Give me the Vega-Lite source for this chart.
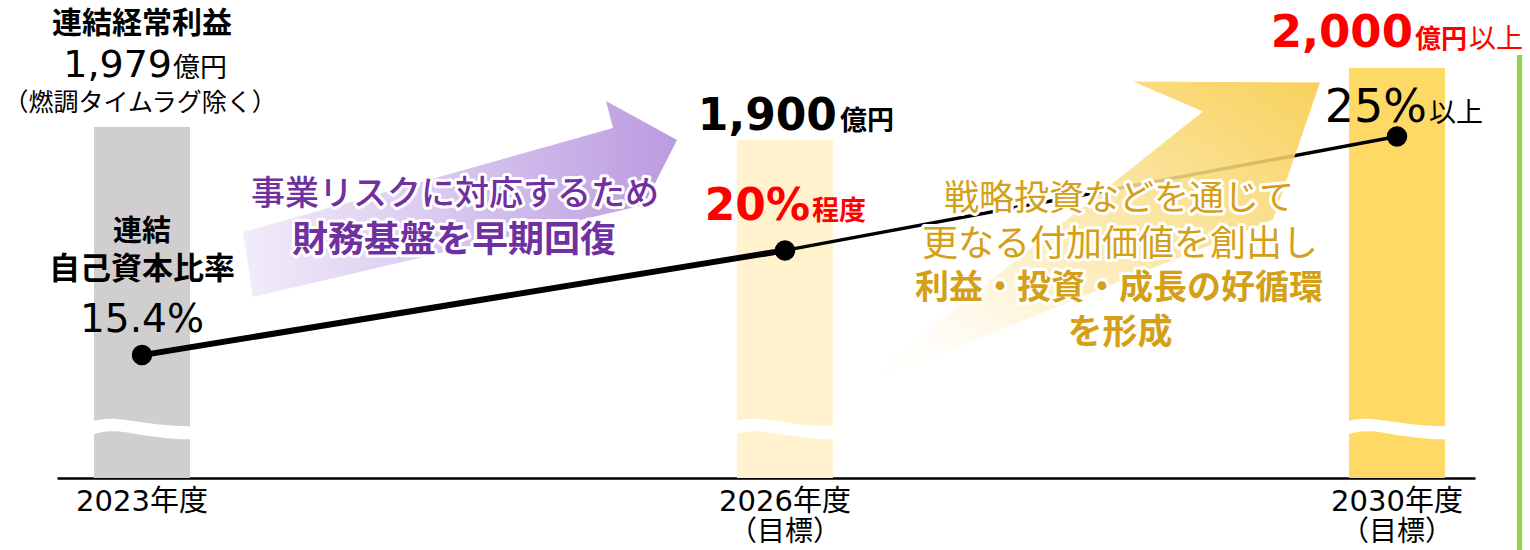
{
  "$schema": "https://vega.github.io/schema/vega-lite/v6.json",
  "width": 1530,
  "height": 478,
  "autosize": {"type": "none"},
  "padding": {"left": 0, "right": 0, "top": 0, "bottom": 72},
  "background": "white",
  "config": {"view": {"stroke": null}},
  "data": {"values": [
    {"year": 2023, "fy": "2023年度", "sub": "", "profit": 1979, "profitText": "1,979", "profitNote": "", "ratio": 15.4, "ratioText": "15.4%", "ratioNote": ""},
    {"year": 2026, "fy": "2026年度", "sub": "（目標）", "profit": 1900, "profitText": "1,900", "profitNote": "", "ratio": 20, "ratioText": "20%", "ratioNote": "程度"},
    {"year": 2030, "fy": "2030年度", "sub": "（目標）", "profit": 2000, "profitText": "2,000", "profitNote": "以上", "ratio": 25, "ratioText": "25%", "ratioNote": "以上"}
  ]},
  "encoding": {
    "x": {"field": "year", "type": "quantitative",
      "scale": {"domain": [2022.6, 2023, 2026, 2030, 2030.5], "range": [57, 142, 785, 1397, 1475], "zero": false, "nice": false},
      "axis": {"title": null, "labels": false, "ticks": false, "grid": false, "domain": true, "domainColor": "#000000", "domainWidth": 2.5}}
  },
  "layer": [
    {"mark": {"type": "bar", "width": 96, "orient": "vertical"},
     "encoding": {
       "y": {"field": "profit", "type": "quantitative", "scale": {"domain": [0, 1900, 1979, 2000], "range": [478, 140, 127, 68], "zero": false, "nice": false}, "axis": null},
       "color": {"field": "fy", "type": "nominal", "scale": {"domain": ["2023年度", "2026年度", "2030年度"], "range": ["#D0CECE", "#FFF2CC", "#FFD966"]}, "legend": null}}},
    {"mark": {"type": "point", "shape": "M-1.05,-0.15 C-0.85,-0.22 -0.6,-0.23 -0.3,-0.18 C0.1,-0.12 0.6,-0.05 1.05,-0.06 L1.05,0.21 C0.6,0.22 0.1,0.14 -0.3,0.07 C-0.6,0.02 -0.85,0.04 -1.05,0.12 Z", "size": 9409, "filled": true, "fill": "#FFFFFF", "opacity": 1, "strokeWidth": 0},
     "encoding": {"y": {"datum": 275, "scale": {"domain": [0, 1900, 1979, 2000], "range": [478, 140, 127, 68], "zero": false, "nice": false}, "axis": null}}},
    {"transform": [{"filter": "datum.year === 2023"}],
     "mark": {"type": "point", "shape": "M101,-123 L471,-227 L464,-254 L535,-215 L502,-150 L111,-58 Z", "size": 4, "filled": true, "opacity": 1, "strokeWidth": 0,
       "fill": {"gradient": "linear", "x1": 0, "y1": 0.5, "x2": 1, "y2": 0.5, "stops": [{"offset": 0, "color": "#F1ECFA"}, {"offset": 0.4, "color": "#DCCDF1"}, {"offset": 1, "color": "#BB9BE0"}]}},
     "encoding": {"y": {"field": "ratio", "type": "quantitative", "scale": {"domain": [10, 31], "zero": false, "nice": false}, "axis": null}}},
    {"transform": [{"filter": "datum.year <= 2026"}],
     "mark": {"type": "line", "color": "#000000", "strokeWidth": 6},
     "encoding": {"y": {"field": "ratio", "type": "quantitative", "scale": {"domain": [10, 31], "zero": false, "nice": false}, "axis": null}}},
    {"transform": [{"filter": "datum.year >= 2026"}],
     "mark": {"type": "line", "color": "#000000", "strokeWidth": 3.5},
     "encoding": {"y": {"field": "ratio", "type": "quantitative", "scale": {"domain": [10, 31], "zero": false, "nice": false}, "axis": null}}},
    {"transform": [{"filter": "datum.year === 2030"}],
     "mark": {"type": "point", "shape": "M-77,-54 L-264,-55 L-194,-25 L-544,253 L-124,83 Z", "size": 4, "filled": true, "opacity": 0.88, "strokeWidth": 0,
       "fill": {"gradient": "linear", "x1": 0, "y1": 1, "x2": 1, "y2": 0, "stops": [{"offset": 0, "color": "rgba(255,255,255,0)"}, {"offset": 0.4, "color": "#FCEDC0"}, {"offset": 1, "color": "#F7CB45"}]}},
     "encoding": {"y": {"field": "ratio", "type": "quantitative", "scale": {"domain": [10, 31], "zero": false, "nice": false}, "axis": null}}},
    {"mark": {"type": "point", "shape": "circle", "size": 420, "filled": true, "color": "#000000", "opacity": 1, "strokeWidth": 0},
     "encoding": {"y": {"field": "ratio", "type": "quantitative", "scale": {"domain": [10, 31], "zero": false, "nice": false}, "axis": null}}},
    {"transform": [{"filter": "datum.year === 2030"}],
     "mark": {"type": "rule", "color": "#92D050", "strokeWidth": 5},
     "encoding": {"x": {"datum": 2030.83},
       "y": {"datum": 2004.6, "scale": {"domain": [0, 1900, 1979, 2000], "range": [478, 140, 127, 68], "zero": false, "nice": false}, "axis": null},
       "y2": {"datum": -405}}},

    {"transform": [{"filter": "datum.year === 2023"}],
     "mark": {"type": "text", "text": "連結経常利益", "font": "Noto Sans CJK JP", "fontSize": 30, "fontWeight": "bold", "color": "#000000", "align": "center", "baseline": "middle", "dy": -103},
     "encoding": {"y": {"field": "profit", "type": "quantitative", "scale": {"domain": [0, 1900, 1979, 2000], "range": [478, 140, 127, 68], "zero": false, "nice": false}, "axis": null}}},
    {"transform": [{"filter": "datum.year === 2023"}],
     "mark": {"type": "text", "font": "DejaVu Sans, Noto Sans CJK JP", "fontSize": 38, "color": "#000000", "align": "right", "baseline": "alphabetic", "dx": 30, "dy": -50},
     "encoding": {"y": {"field": "profit", "type": "quantitative", "scale": {"domain": [0, 1900, 1979, 2000], "range": [478, 140, 127, 68], "zero": false, "nice": false}, "axis": null}, "text": {"field": "profitText"}}},
    {"transform": [{"filter": "datum.year === 2023"}],
     "mark": {"type": "text", "text": "億円", "font": "Noto Sans CJK JP", "fontSize": 27, "color": "#000000", "align": "left", "baseline": "alphabetic", "dx": 31, "dy": -50},
     "encoding": {"y": {"field": "profit", "type": "quantitative", "scale": {"domain": [0, 1900, 1979, 2000], "range": [478, 140, 127, 68], "zero": false, "nice": false}, "axis": null}}},
    {"transform": [{"filter": "datum.year === 2023"}],
     "mark": {"type": "text", "text": "（燃調タイムラグ除く）", "font": "Noto Sans CJK JP", "fontSize": 25, "color": "#000000", "align": "center", "baseline": "middle", "dx": -2, "dy": -24},
     "encoding": {"y": {"field": "profit", "type": "quantitative", "scale": {"domain": [0, 1900, 1979, 2000], "range": [478, 140, 127, 68], "zero": false, "nice": false}, "axis": null}}},

    {"transform": [{"filter": "datum.year === 2023"}],
     "mark": {"type": "text", "text": "連結", "font": "Noto Sans CJK JP", "fontSize": 29, "fontWeight": "bold", "color": "#000000", "align": "center", "baseline": "middle", "dy": -123},
     "encoding": {"y": {"field": "ratio", "type": "quantitative", "scale": {"domain": [10, 31], "zero": false, "nice": false}, "axis": null}}},
    {"transform": [{"filter": "datum.year === 2023"}],
     "mark": {"type": "text", "text": "自己資本比率", "font": "Noto Sans CJK JP", "fontSize": 31, "fontWeight": "bold", "color": "#000000", "align": "center", "baseline": "middle", "dy": -85},
     "encoding": {"y": {"field": "ratio", "type": "quantitative", "scale": {"domain": [10, 31], "zero": false, "nice": false}, "axis": null}}},
    {"transform": [{"filter": "datum.year === 2023"}],
     "mark": {"type": "text", "font": "DejaVu Sans, Noto Sans CJK JP", "fontSize": 39, "color": "#000000", "align": "center", "baseline": "alphabetic", "dy": -23},
     "encoding": {"y": {"field": "ratio", "type": "quantitative", "scale": {"domain": [10, 31], "zero": false, "nice": false}, "axis": null}, "text": {"field": "ratioText"}}},

    {"transform": [{"filter": "datum.year === 2023"}],
     "mark": {"type": "text", "text": "事業リスクに対応するため", "font": "Noto Sans CJK JP", "fontSize": 34, "fontWeight": 500, "fill": "#FFFFFF", "stroke": "#FFFFFF", "strokeWidth": 6, "strokeJoin": "round", "align": "center", "baseline": "middle", "dx": 313, "dy": -160},
     "encoding": {"y": {"field": "ratio", "type": "quantitative", "scale": {"domain": [10, 31], "zero": false, "nice": false}, "axis": null}}},
    {"transform": [{"filter": "datum.year === 2023"}],
     "mark": {"type": "text", "text": "事業リスクに対応するため", "font": "Noto Sans CJK JP", "fontSize": 34, "fontWeight": 500, "fill": "#7030A0", "align": "center", "baseline": "middle", "dx": 313, "dy": -160},
     "encoding": {"y": {"field": "ratio", "type": "quantitative", "scale": {"domain": [10, 31], "zero": false, "nice": false}, "axis": null}}},
    {"transform": [{"filter": "datum.year === 2023"}],
     "mark": {"type": "text", "text": "財務基盤を早期回復", "font": "Noto Sans CJK JP", "fontSize": 36, "fontWeight": "bold", "fill": "#FFFFFF", "stroke": "#FFFFFF", "strokeWidth": 6, "strokeJoin": "round", "align": "center", "baseline": "middle", "dx": 312, "dy": -114},
     "encoding": {"y": {"field": "ratio", "type": "quantitative", "scale": {"domain": [10, 31], "zero": false, "nice": false}, "axis": null}}},
    {"transform": [{"filter": "datum.year === 2023"}],
     "mark": {"type": "text", "text": "財務基盤を早期回復", "font": "Noto Sans CJK JP", "fontSize": 36, "fontWeight": "bold", "fill": "#7030A0", "align": "center", "baseline": "middle", "dx": 312, "dy": -114},
     "encoding": {"y": {"field": "ratio", "type": "quantitative", "scale": {"domain": [10, 31], "zero": false, "nice": false}, "axis": null}}},

    {"transform": [{"filter": "datum.year === 2026"}],
     "mark": {"type": "text", "font": "DejaVu Sans, Noto Sans CJK JP", "fontSize": 44, "fontWeight": "bold", "color": "#000000", "align": "right", "baseline": "alphabetic", "dx": 52, "dy": -10},
     "encoding": {"y": {"field": "profit", "type": "quantitative", "scale": {"domain": [0, 1900, 1979, 2000], "range": [478, 140, 127, 68], "zero": false, "nice": false}, "axis": null}, "text": {"field": "profitText"}}},
    {"transform": [{"filter": "datum.year === 2026"}],
     "mark": {"type": "text", "text": "億円", "font": "Noto Sans CJK JP", "fontSize": 27, "fontWeight": "bold", "color": "#000000", "align": "left", "baseline": "alphabetic", "dx": 55, "dy": -10},
     "encoding": {"y": {"field": "profit", "type": "quantitative", "scale": {"domain": [0, 1900, 1979, 2000], "range": [478, 140, 127, 68], "zero": false, "nice": false}, "axis": null}}},
    {"transform": [{"filter": "datum.year === 2026"}],
     "mark": {"type": "text", "font": "DejaVu Sans, Noto Sans CJK JP", "fontSize": 44, "fontWeight": "bold", "color": "#FF0000", "align": "right", "baseline": "alphabetic", "dx": 25, "dy": -30},
     "encoding": {"y": {"field": "ratio", "type": "quantitative", "scale": {"domain": [10, 31], "zero": false, "nice": false}, "axis": null}, "text": {"field": "ratioText"}}},
    {"transform": [{"filter": "datum.year === 2026"}],
     "mark": {"type": "text", "font": "Noto Sans CJK JP", "fontSize": 27, "fontWeight": "bold", "color": "#FF0000", "align": "left", "baseline": "alphabetic", "dx": 27, "dy": -30},
     "encoding": {"y": {"field": "ratio", "type": "quantitative", "scale": {"domain": [10, 31], "zero": false, "nice": false}, "axis": null}, "text": {"field": "ratioNote"}}},

    {"transform": [{"filter": "datum.year === 2030"}],
     "mark": {"type": "text", "font": "DejaVu Sans, Noto Sans CJK JP", "fontSize": 45, "fontWeight": "bold", "color": "#FF0000", "align": "right", "baseline": "alphabetic", "dx": 16, "dy": -21},
     "encoding": {"y": {"field": "profit", "type": "quantitative", "scale": {"domain": [0, 1900, 1979, 2000], "range": [478, 140, 127, 68], "zero": false, "nice": false}, "axis": null}, "text": {"field": "profitText"}}},
    {"transform": [{"filter": "datum.year === 2030"}],
     "mark": {"type": "text", "text": "億円", "font": "Noto Sans CJK JP", "fontSize": 26, "fontWeight": "bold", "color": "#FF0000", "align": "left", "baseline": "alphabetic", "dx": 18, "dy": -20},
     "encoding": {"y": {"field": "profit", "type": "quantitative", "scale": {"domain": [0, 1900, 1979, 2000], "range": [478, 140, 127, 68], "zero": false, "nice": false}, "axis": null}}},
    {"transform": [{"filter": "datum.year === 2030"}],
     "mark": {"type": "text", "font": "Noto Sans CJK JP", "fontSize": 27, "color": "#FF0000", "align": "left", "baseline": "alphabetic", "dx": 72, "dy": -20},
     "encoding": {"y": {"field": "profit", "type": "quantitative", "scale": {"domain": [0, 1900, 1979, 2000], "range": [478, 140, 127, 68], "zero": false, "nice": false}, "axis": null}, "text": {"field": "profitNote"}}},
    {"transform": [{"filter": "datum.year === 2030"}],
     "mark": {"type": "text", "font": "DejaVu Sans, Noto Sans CJK JP", "fontSize": 46, "color": "#000000", "align": "right", "baseline": "alphabetic", "dx": 30, "dy": -15},
     "encoding": {"y": {"field": "ratio", "type": "quantitative", "scale": {"domain": [10, 31], "zero": false, "nice": false}, "axis": null}, "text": {"field": "ratioText"}}},
    {"transform": [{"filter": "datum.year === 2030"}],
     "mark": {"type": "text", "font": "Noto Sans CJK JP", "fontSize": 27, "color": "#000000", "align": "left", "baseline": "alphabetic", "dx": 32, "dy": -15},
     "encoding": {"y": {"field": "ratio", "type": "quantitative", "scale": {"domain": [10, 31], "zero": false, "nice": false}, "axis": null}, "text": {"field": "ratioNote"}}},

    {"transform": [{"filter": "datum.year === 2030"}],
     "mark": {"type": "text", "text": "戦略投資などを通じて", "font": "Noto Sans CJK JP", "fontSize": 35, "fill": "#FFFFFF", "stroke": "#FFFFFF", "strokeWidth": 6, "strokeJoin": "round", "align": "center", "baseline": "middle", "dx": -278, "dy": 62},
     "encoding": {"y": {"field": "ratio", "type": "quantitative", "scale": {"domain": [10, 31], "zero": false, "nice": false}, "axis": null}}},
    {"transform": [{"filter": "datum.year === 2030"}],
     "mark": {"type": "text", "text": "戦略投資などを通じて", "font": "Noto Sans CJK JP", "fontSize": 35, "fill": "#D4A017", "align": "center", "baseline": "middle", "dx": -278, "dy": 62},
     "encoding": {"y": {"field": "ratio", "type": "quantitative", "scale": {"domain": [10, 31], "zero": false, "nice": false}, "axis": null}}},
    {"transform": [{"filter": "datum.year === 2030"}],
     "mark": {"type": "text", "text": "更なる付加価値を創出し", "font": "Noto Sans CJK JP", "fontSize": 36, "fill": "#FFFFFF", "stroke": "#FFFFFF", "strokeWidth": 6, "strokeJoin": "round", "align": "center", "baseline": "middle", "dx": -277, "dy": 108},
     "encoding": {"y": {"field": "ratio", "type": "quantitative", "scale": {"domain": [10, 31], "zero": false, "nice": false}, "axis": null}}},
    {"transform": [{"filter": "datum.year === 2030"}],
     "mark": {"type": "text", "text": "更なる付加価値を創出し", "font": "Noto Sans CJK JP", "fontSize": 36, "fill": "#D4A017", "align": "center", "baseline": "middle", "dx": -277, "dy": 108},
     "encoding": {"y": {"field": "ratio", "type": "quantitative", "scale": {"domain": [10, 31], "zero": false, "nice": false}, "axis": null}}},
    {"transform": [{"filter": "datum.year === 2030"}],
     "mark": {"type": "text", "text": "利益・投資・成長の好循環", "font": "Noto Sans CJK JP", "fontSize": 34, "fontWeight": "bold", "fill": "#FFFFFF", "stroke": "#FFFFFF", "strokeWidth": 6, "strokeJoin": "round", "align": "center", "baseline": "middle", "dx": -278, "dy": 152},
     "encoding": {"y": {"field": "ratio", "type": "quantitative", "scale": {"domain": [10, 31], "zero": false, "nice": false}, "axis": null}}},
    {"transform": [{"filter": "datum.year === 2030"}],
     "mark": {"type": "text", "text": "利益・投資・成長の好循環", "font": "Noto Sans CJK JP", "fontSize": 34, "fontWeight": "bold", "fill": "#D4A017", "align": "center", "baseline": "middle", "dx": -278, "dy": 152},
     "encoding": {"y": {"field": "ratio", "type": "quantitative", "scale": {"domain": [10, 31], "zero": false, "nice": false}, "axis": null}}},
    {"transform": [{"filter": "datum.year === 2030"}],
     "mark": {"type": "text", "text": "を形成", "font": "Noto Sans CJK JP", "fontSize": 35, "fontWeight": "bold", "fill": "#FFFFFF", "stroke": "#FFFFFF", "strokeWidth": 6, "strokeJoin": "round", "align": "center", "baseline": "middle", "dx": -277, "dy": 196},
     "encoding": {"y": {"field": "ratio", "type": "quantitative", "scale": {"domain": [10, 31], "zero": false, "nice": false}, "axis": null}}},
    {"transform": [{"filter": "datum.year === 2030"}],
     "mark": {"type": "text", "text": "を形成", "font": "Noto Sans CJK JP", "fontSize": 35, "fontWeight": "bold", "fill": "#D4A017", "align": "center", "baseline": "middle", "dx": -277, "dy": 196},
     "encoding": {"y": {"field": "ratio", "type": "quantitative", "scale": {"domain": [10, 31], "zero": false, "nice": false}, "axis": null}}},

    {"mark": {"type": "text", "font": "DejaVu Sans, Noto Sans CJK JP", "fontSize": 29, "color": "#000000", "align": "center", "baseline": "middle", "dy": 24},
     "encoding": {"y": {"datum": 0, "scale": {"domain": [0, 1900, 1979, 2000], "range": [478, 140, 127, 68], "zero": false, "nice": false}, "axis": null}, "text": {"field": "fy"}}},
    {"transform": [{"filter": "datum.sub !== ''"}],
     "mark": {"type": "text", "font": "Noto Sans CJK JP", "fontSize": 28, "color": "#000000", "align": "center", "baseline": "middle", "dy": 55},
     "encoding": {"y": {"datum": 0, "scale": {"domain": [0, 1900, 1979, 2000], "range": [478, 140, 127, 68], "zero": false, "nice": false}, "axis": null}, "text": {"field": "sub"}}}
  ],
  "resolve": {"scale": {"y": "independent"}}
}
